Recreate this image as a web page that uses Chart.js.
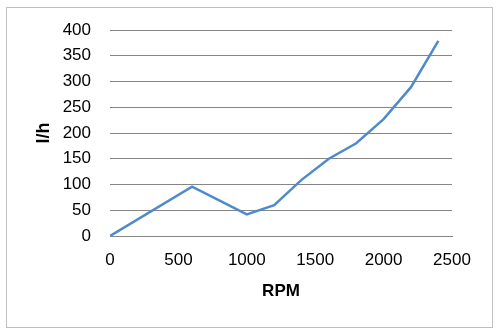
<!DOCTYPE html>
<html>
<head>
<meta charset="utf-8">
<script src="https://cdn.jsdelivr.net/npm/chart.js@4"></script>
<style>
  body { margin:0; background:#fff; }
  #wrap { position:absolute; left:0; top:0; width:501px; height:333px; }
  #frame { position:absolute; left:6px; top:7px; width:485px; height:319px; border:1px solid #bfbfbf; }
  canvas { position:absolute; left:0; top:0; }
</style>
</head>
<body>
<div id="wrap">
  <div id="frame"></div>
  <canvas id="chart" width="501" height="333"></canvas>
</div>
<script>
// RPM vs l/h
const rpm = [0, 600, 1000, 1200, 1400, 1600, 1800, 2000, 2200, 2400];
const flow = [0, 96, 42, 60, 109, 150, 180, 227, 289, 379];

const xTitle = 'RPM';
const yTitle = 'l/h';

const points = rpm.map((r, i) => ({x: r, y: flow[i]}));

const fontFamily = "'Liberation Sans', Arial, sans-serif";

new Chart(document.getElementById('chart').getContext('2d'), {
    type: 'line',
    data: {
        datasets: [{
            data: points,
            borderColor: '#508acb',
            borderWidth: 2.5,
            pointRadius: 0,
            tension: 0,
            fill: false
        }]
    },
    options: {
        responsive: false,
        animation: false,
        layout: { padding: { left: 20, right: 49, top: 30, bottom: 0 } },
        plugins: { legend: { display: false }, tooltip: { enabled: false } },
        scales: {
            x: {
                type: 'linear',
                min: 0, max: 2500,
                ticks: { stepSize: 500, color: '#000', padding: 14, font: { family: fontFamily, size: 17 },
                         callback: v => String(v) },
                grid: { display: false, drawTicks: false },
                border: { display: true, color: '#868686', width: 1 },
                title: { display: true, text: xTitle, color: '#000', padding: { top: 0, bottom: 31 },
                         font: { family: fontFamily, size: 17, weight: 'bold' } },
                afterFit: s => { s.height = 97; }
            },
            y: {
                min: 0, max: 400,
                ticks: { stepSize: 50, color: '#000', padding: 19, font: { family: fontFamily, size: 17 },
                         callback: v => String(v) },
                grid: { color: '#868686', lineWidth: 1, drawTicks: false },
                border: { display: false },
                title: { display: true, text: yTitle, color: '#000', padding: { top: 13, bottom: 0 },
                         font: { family: fontFamily, size: 18, weight: 'bold' } },
                afterFit: s => { s.width = 90; }
            }
        }
    }
});
</script>
</body>
</html>
